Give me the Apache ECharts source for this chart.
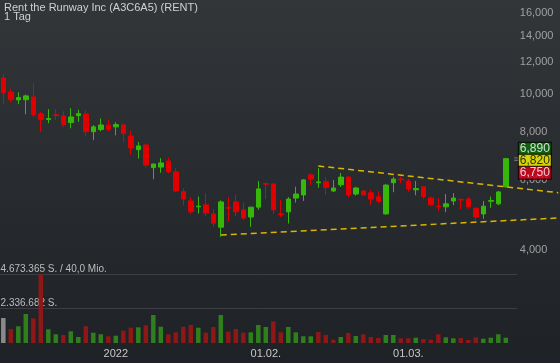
<!DOCTYPE html>
<html><head><meta charset="utf-8">
<script src="https://cdn.jsdelivr.net/npm/echarts@6/dist/echarts.min.js"></script>
<style>html,body{margin:0;padding:0;background:#2a2e32}#c{width:560px;height:363px}</style>
</head><body><div id="c"></div>
<script>
const dates = [
'2021-12-10','2021-12-13','2021-12-14','2021-12-15','2021-12-16','2021-12-17','2021-12-20','2021-12-21','2021-12-22','2021-12-23',
'2021-12-27','2021-12-28','2021-12-29','2021-12-30','2021-12-31',
'2022-01-03','2022-01-04','2022-01-05','2022-01-06','2022-01-07','2022-01-10','2022-01-11','2022-01-12','2022-01-13','2022-01-14',
'2022-01-18','2022-01-19','2022-01-20','2022-01-21','2022-01-24','2022-01-25','2022-01-26','2022-01-27','2022-01-28','2022-01-31',
'2022-02-01','2022-02-02','2022-02-03','2022-02-04','2022-02-07','2022-02-08','2022-02-09','2022-02-10','2022-02-11','2022-02-14',
'2022-02-15','2022-02-16','2022-02-17','2022-02-18','2022-02-22','2022-02-23','2022-02-24','2022-02-25','2022-02-28',
'2022-03-01','2022-03-02','2022-03-03','2022-03-04','2022-03-07','2022-03-08','2022-03-09','2022-03-10','2022-03-11','2022-03-14',
'2022-03-15','2022-03-16','2022-03-17','2022-03-18'];
const opens = [10.96,10.09,9.63,9.64,9.80,8.87,8.58,8.82,8.76,8.43, 8.78,8.87,7.99,8.09,8.31,8.22,8.31,7.79,7.19,7.39,
 6.47,6.49,6.73,6.31,5.62,5.32,5.14,5.20,4.93,4.56, 5.12,5.29,5.05,4.84,5.13,5.89,5.88,4.93,4.99,5.41,
 5.51,6.20,5.92,5.96,5.64,5.85,6.12,5.54,5.64,5.58, 5.45,4.93,5.92,6.05,5.98,5.68,5.78,5.41,5.16,5.14,
 5.32,5.37,5.38,5.10,4.93,5.31,5.23,5.78];
const closes = [10.05,9.64,9.76,9.86,8.83,8.58,8.63,8.78,8.33,8.71, 8.88,7.99,8.22,8.31,8.09,8.33,7.90,7.26,7.35,6.57,
 6.61,6.65,6.31,5.64,5.38,4.99,5.16,4.96,4.67,5.29, 5.10,4.99,4.81,5.13,5.71,5.87,5.05,4.91,5.38,5.54,
 6.02,6.05,5.95,5.76,5.74,6.12,5.51,5.74,5.51,5.38, 5.32,5.84,6.05,6.03,5.71,5.72,5.46,5.20,5.14,5.23,
 5.41,5.35,5.14,4.84,5.16,5.33,5.61,6.82];
const lows = [9.39,9.50,9.39,8.85,8.70,7.98,8.40,8.56,8.20,8.15, 8.47,7.76,7.60,8.01,8.01,7.82,7.51,6.98,6.82,6.48,
 6.04,6.28,6.27,5.61,5.19,4.93,4.94,4.87,4.57,4.31, 4.72,4.86,4.76,4.57,5.05,5.38,4.93,4.84,4.66,5.27,
 5.32,5.84,5.75,5.52,5.61,5.78,5.44,5.49,5.50,5.20, 5.25,4.91,5.60,5.90,5.62,5.50,5.37,5.16,5.02,4.98,
 5.19,5.07,5.08,4.76,4.79,5.11,5.19,5.75];
const highs = [11.22,10.29,10.07,9.93,10.62,8.97,9.12,9.12,9.01,9.17, 9.09,9.09,8.30,8.63,8.58,8.45,8.38,8.04,7.52,7.42,
 6.61,6.84,6.86,6.45,5.73,5.44,5.46,5.57,5.07,5.34, 5.45,5.53,5.28,5.13,5.98,5.92,5.89,5.35,5.44,5.78,
 6.05,6.26,6.45,6.11,6.02,6.27,6.16,5.78,5.67,5.68, 5.63,5.87,6.13,6.14,6.06,5.98,5.79,5.46,5.41,5.54,
 5.57,5.38,5.45,5.11,5.32,5.46,5.64,6.85];
const volumes = [1700000,952000,1136000,1973000,1680000,4673365,932000,592000,544000,796000,
 408000,1136000,701000,592000,456000,497000,837000,1041000,1068000,1204000,
 1905000,1109000,592000,728000,1109000,1224000,1041000,701000,1088000,1905000,
 769000,952000,701000,728000,1224000,1088000,1476000,728000,1088000,728000,
 456000,456000,748000,544000,224000,408000,680000,476000,592000,408000,
 340000,544000,544000,320000,320000,361000,272000,224000,592000,388000,
 320000,340000,204000,388000,293000,361000,592000,361000];
const volumeMax = 4673365;
const volumeTickLabels = ['2.336.682 S.', '4.673.365 S. / 40,0 Mio.'];
const priceTicks = [4, 6, 8, 10, 12, 14, 16];
const priceTickLabels = ['4,000','6,000','8,000','10,000','12,000','14,000','16,000'];
const xTickDates = ['2022-01-03','2022-02-01','2022-03-01'];
const xTickLabels = ['2022','01.02.','01.03.'];
const quoteValues = [6.89, 6.82, 6.75];
const quoteLabels = ['6,890','6,820','6,750'];
const trendLower = [[29, 4.356], [74, 4.813]];
const trendUpper = [[42, 6.533], [74, 5.584]];

const FONT = 'Liberation Sans, Arial, sans-serif';
const UP = '#36b80a', DOWN = '#e10000';
const VUP = '#2f7f1c', VDOWN = '#8e1717', VNEU = '#8a8a8a';
const CLEAR = 'rgba(0,0,0,0)';

const priceCats = dates.concat(['p1','p2','p3','p4','p5','p6','p7']);
const volCats = dates.concat(['p1']);
const candleData = dates.map((d, i) => [opens[i], closes[i], lows[i], highs[i]]);
const volData = volumes.map((v, i) => ({
  value: v,
  itemStyle: { color: i === 0 ? VNEU : (closes[i] >= closes[i - 1] ? VUP : VDOWN) }
}));
const lastIdx = dates.length;

const tickPoints = priceTicks.map((v, k) => ({ value: [lastIdx, v], label: { formatter: priceTickLabels[k] } }));
const boxStyle = (fg, bg) => ({ color: fg, backgroundColor: bg, borderColor: '#000', borderWidth: 1,
  width: 30, height: 11, lineHeight: 12, align: 'center', fontSize: 12, fontFamily: FONT, padding: [1, 1, 0, 1] });
const quotePoint = [{ value: [lastIdx, quoteValues[1]], label: {
  formatter: '{g|' + quoteLabels[0] + '}\n{y|' + quoteLabels[1] + '}\n{r|' + quoteLabels[2] + '}',
  rich: { g: boxStyle('#fff', '#0a6e0a'), y: boxStyle('#000', '#ffff00'), r: boxStyle('#fff', '#e0001a') }
} }];
const quoteMarker = [{ value: [lastIdx, quoteValues[1]] }];

const option = {
  animation: false,
  backgroundColor: { type: 'linear', x: 0, y: 0, x2: 0, y2: 1,
    colorStops: [{ offset: 0, color: '#323639' }, { offset: 1, color: '#1e2125' }] },
  title: [
    { text: 'Rent the Runway Inc (A3C6A5) (RENT)', left: 4, top: 2, padding: 0,
      textStyle: { color: '#d0d0d0', fontSize: 11, fontWeight: 'normal', fontFamily: FONT } },
    { text: '1 Tag', left: 4, top: 11, padding: 0,
      textStyle: { color: '#d0d0d0', fontSize: 11, fontWeight: 'normal', fontFamily: FONT } }
  ],
  grid: [
    { left: -0.45, top: 0, width: 562.5, height: 256, outerBoundsMode: 'none' },
    { left: -0.45, top: 274.3, width: 517.5, height: 68.7, outerBoundsMode: 'none' }
  ],
  xAxis: [
    { type: 'category', gridIndex: 0, data: priceCats, show: false, boundaryGap: true },
    { type: 'category', gridIndex: 1, data: volCats, boundaryGap: true,
      axisLine: { show: false }, axisTick: { show: false }, splitLine: { show: false },
      axisLabel: { interval: (i, v) => xTickDates.includes(v),
        formatter: (v) => { const k = xTickDates.indexOf(v); return k >= 0 ? xTickLabels[k] : ''; },
        color: '#c8c8c8', fontSize: 11, fontFamily: FONT, margin: 5 } }
  ],
  yAxis: [
    { type: 'log', gridIndex: 0, logBase: 10, min: 3.8502, max: 17.316, show: false },
    { type: 'value', gridIndex: 1, min: 0, max: volumeMax, interval: volumeMax / 2, position: 'left',
      axisLine: { show: false }, axisTick: { show: false },
      splitLine: { show: true, showMinLine: false, lineStyle: { color: '#3b3f44', width: 1 } },
      axisLabel: { inside: true, verticalAlign: 'bottom', margin: 1, fontSize: 10, fontFamily: FONT, color: '#bdbdbd',
        showMinLabel: false,
        formatter: (v) => v >= volumeMax - 1 ? volumeTickLabels[1] : (v > 0 ? volumeTickLabels[0] : '') } }
  ],
  series: [
    { type: 'candlestick', xAxisIndex: 0, yAxisIndex: 0, data: candleData, barWidth: 5,
      itemStyle: { color: UP, color0: DOWN, borderColor: UP, borderColor0: DOWN, borderWidth: 1 } },
    { type: 'line', xAxisIndex: 0, yAxisIndex: 0, data: trendLower, symbol: 'none', silent: true, z: 5,
      lineStyle: { color: '#d9b600', width: 1.5, type: [6, 4] } },
    { type: 'line', xAxisIndex: 0, yAxisIndex: 0, data: trendUpper, symbol: 'none', silent: true, z: 5,
      lineStyle: { color: '#d9b600', width: 1.5, type: [6, 4] } },
    { type: 'scatter', xAxisIndex: 0, yAxisIndex: 0, data: tickPoints, symbolSize: 1, silent: true, z: 6,
      clip: false, itemStyle: { color: CLEAR },
      label: { show: true, position: 'right', distance: 6, color: '#bbbbbb', fontSize: 11, fontFamily: FONT } },
    { type: 'scatter', xAxisIndex: 0, yAxisIndex: 0, data: quoteMarker, symbolSize: 1, silent: true, z: 7,
      clip: false, itemStyle: { color: CLEAR },
      label: { show: true, position: 'right', distance: 0, offset: [0, 1], formatter: '≡', color: '#9a9a9a', fontSize: 9, fontFamily: FONT } },
    { type: 'scatter', xAxisIndex: 0, yAxisIndex: 0, data: quotePoint, symbolSize: 1, silent: true, z: 8,
      clip: false, itemStyle: { color: CLEAR },
      label: { show: true, position: 'right', distance: 5, offset: [0, 2] } },
    { type: 'bar', xAxisIndex: 1, yAxisIndex: 1, data: volData, barWidth: 4.5 }
  ]
};
const chart = echarts.init(document.getElementById('c'), null, { renderer: 'canvas' });
chart.setOption(option);
</script>
</body></html>
